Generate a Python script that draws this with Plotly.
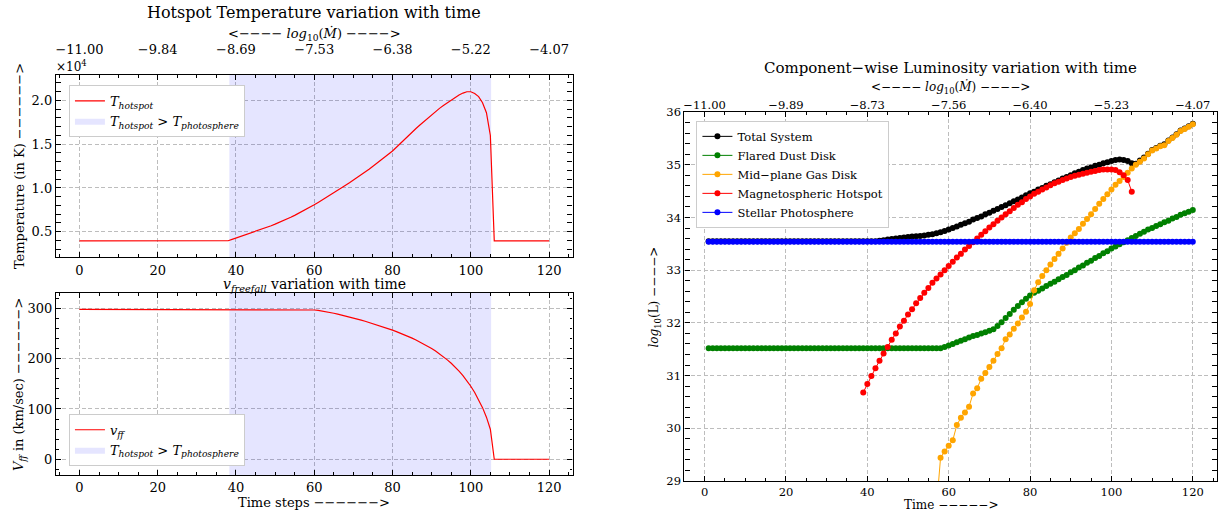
import plotly.graph_objects as go

# ---------------------------------------------------------------------------
# Data
# ---------------------------------------------------------------------------
time_steps = list(range(0, 121))

# Hotspot temperature in K, one value per time step 0..120
t_hotspot = [
    3950, 3950, 3950, 3950, 3950, 3950, 3950, 3950, 3950, 3950,
    3950, 3950, 3950, 3950, 3950, 3950, 3950, 3950, 3950, 3950,
    3950, 3950, 3950, 3950, 3950, 3950, 3950, 3950, 3950, 3950,
    3950, 3950, 3950, 3950, 3950, 3950, 3950, 3950, 3970, 4120,
    4270, 4420, 4570, 4720, 4870, 5030, 5190, 5350, 5520, 5690,
    5870, 6050, 6240, 6440, 6650, 6870, 7100, 7340, 7580, 7830,
    8080, 8350, 8620, 8890, 9170, 9450, 9740, 10030, 10320, 10610,
    10900, 11200, 11500, 11820, 12150, 12490, 12830, 13180, 13530, 13880,
    14230, 14650, 15100, 15550, 15980, 16400, 16800, 17200, 17600, 18000,
    18400, 18760, 19100, 19430, 19750, 20050, 20350, 20620, 20850, 21000,
    21000, 20800, 20450, 19750, 18600, 16000, 3950, 3950, 3950, 3950,
    3950, 3950, 3950, 3950, 3950, 3950, 3950, 3950, 3950, 3950,
    3950,
]

# Free-fall velocity in km/s, one value per time step 0..120
v_freefall = [
    298, 298, 298, 298, 298, 298, 298, 298, 298, 298,
    298, 298, 298, 298, 298, 298, 298, 298, 298, 298,
    298, 298, 298, 298, 298, 298, 298, 298, 298, 298,
    298, 298, 298, 298, 298, 298, 298, 298, 298, 298,
    298, 298, 298, 298, 298, 298, 298, 298, 298, 298,
    298, 298, 298, 298, 298, 298, 298, 298, 298, 297.6,
    296.9, 296.0, 294.9, 293.6, 292.1, 290.5, 288.8, 287.0, 285.1, 283.1,
    281.0, 278.9, 276.7, 274.5, 272.2, 269.9, 267.5, 265.0, 262.4, 259.7,
    256.9, 254.0, 251.0, 247.8, 244.5, 241.0, 237.3, 233.4, 229.3, 224.9,
    220.2, 215.2, 209.8, 204.0, 197.7, 190.9, 183.5, 175.3, 166.3, 156.3,
    145.2, 132.7, 118.7, 102.7, 83.7, 59.7, 0, 0, 0, 0,
    0, 0, 0, 0, 0, 0, 0, 0, 0, 0,
    0,
]

# Interval where the hotspot is hotter than the photosphere
hot_interval = [38.3, 105.2]

# Component luminosities, log10(L), time steps 1..120
lum_steps = list(range(1, 121))

log_l_total = [
    33.55, 33.55, 33.55, 33.55, 33.55, 33.55, 33.55, 33.55, 33.55, 33.55,
    33.55, 33.55, 33.55, 33.55, 33.55, 33.55, 33.55, 33.55, 33.55, 33.55,
    33.55, 33.55, 33.55, 33.55, 33.55, 33.55, 33.55, 33.55, 33.55, 33.55,
    33.55, 33.55, 33.55, 33.55, 33.55, 33.55, 33.55, 33.55, 33.55, 33.55,
    33.55, 33.55, 33.56, 33.57, 33.58, 33.59, 33.60, 33.61, 33.62, 33.63,
    33.64, 33.645, 33.65, 33.66, 33.67, 33.68, 33.70, 33.72, 33.745, 33.77,
    33.80, 33.83, 33.86, 33.89, 33.92, 33.96, 33.99, 34.02, 34.06, 34.09,
    34.13, 34.16, 34.20, 34.23, 34.27, 34.31, 34.34, 34.38, 34.42, 34.46,
    34.49, 34.53, 34.56, 34.60, 34.63, 34.67, 34.70, 34.74, 34.77, 34.80,
    34.84, 34.87, 34.90, 34.93, 34.95, 34.98, 35.00, 35.03, 35.05, 35.07,
    35.09, 35.10, 35.09, 35.07, 35.03, 35.02, 35.08, 35.14, 35.21, 35.28,
    35.32, 35.36, 35.39, 35.46, 35.52, 35.58, 35.65, 35.69, 35.73, 35.78,
]

log_l_dust = [
    31.52, 31.52, 31.52, 31.52, 31.52, 31.52, 31.52, 31.52, 31.52, 31.52,
    31.52, 31.52, 31.52, 31.52, 31.52, 31.52, 31.52, 31.52, 31.52, 31.52,
    31.52, 31.52, 31.52, 31.52, 31.52, 31.52, 31.52, 31.52, 31.52, 31.52,
    31.52, 31.52, 31.52, 31.52, 31.52, 31.52, 31.52, 31.52, 31.52, 31.52,
    31.52, 31.52, 31.52, 31.52, 31.52, 31.52, 31.52, 31.52, 31.52, 31.52,
    31.52, 31.52, 31.52, 31.52, 31.52, 31.52, 31.52, 31.52, 31.54, 31.57,
    31.60, 31.63, 31.66, 31.69, 31.72, 31.75, 31.77, 31.80, 31.82, 31.85,
    31.88, 31.94, 32.01, 32.09, 32.17, 32.25, 32.32, 32.39, 32.46, 32.52,
    32.57, 32.61, 32.65, 32.70, 32.74, 32.78, 32.83, 32.87, 32.91, 32.96,
    33.00, 33.05, 33.09, 33.14, 33.18, 33.23, 33.27, 33.32, 33.36, 33.41,
    33.45, 33.49, 33.53, 33.57, 33.61, 33.65, 33.69, 33.73, 33.77, 33.80,
    33.84, 33.87, 33.91, 33.94, 33.98, 34.01, 34.05, 34.08, 34.11, 34.14,
]

gas_steps = list(range(57, 121))
log_l_gas = [
    28.50, 29.44, 29.56, 29.67, 29.77, 30.06, 30.20, 30.30, 30.41, 30.66,
    30.76, 30.94, 31.05, 31.16, 31.28, 31.41, 31.52, 31.69, 31.78, 31.89,
    31.99, 32.10, 32.21, 32.36, 32.62, 32.77, 32.89, 33.00, 33.11, 33.21,
    33.31, 33.41, 33.52, 33.62, 33.70, 33.78, 33.88, 33.97, 34.06, 34.16,
    34.26, 34.35, 34.44, 34.53, 34.62, 34.69, 34.77, 34.85, 34.93, 35.00,
    35.06, 35.12, 35.20, 35.27, 35.31, 35.35, 35.37, 35.45, 35.51, 35.57,
    35.64, 35.68, 35.72, 35.77,
]

hotspot_steps = list(range(39, 106))
log_l_hotspot = [
    30.68, 30.84, 30.99, 31.14, 31.28, 31.42, 31.54, 31.68, 31.80, 31.93,
    32.04, 32.16, 32.26, 32.37, 32.47, 32.57, 32.66, 32.76, 32.84, 32.92,
    33.00, 33.08, 33.16, 33.24, 33.31, 33.39, 33.46, 33.53, 33.60, 33.67,
    33.74, 33.81, 33.87, 33.94, 34.00, 34.06, 34.12, 34.18, 34.24, 34.29,
    34.35, 34.40, 34.45, 34.49, 34.53, 34.57, 34.61, 34.65, 34.68, 34.71,
    34.74, 34.77, 34.79, 34.81, 34.83, 34.85, 34.87, 34.88, 34.90, 34.91,
    34.91, 34.91, 34.90, 34.86, 34.80, 34.71, 34.49,
]

log_l_star = [
    33.54, 33.54, 33.54, 33.54, 33.54, 33.54, 33.54, 33.54, 33.54, 33.54,
    33.54, 33.54, 33.54, 33.54, 33.54, 33.54, 33.54, 33.54, 33.54, 33.54,
    33.54, 33.54, 33.54, 33.54, 33.54, 33.54, 33.54, 33.54, 33.54, 33.54,
    33.54, 33.54, 33.54, 33.54, 33.54, 33.54, 33.54, 33.54, 33.54, 33.54,
    33.54, 33.54, 33.54, 33.54, 33.54, 33.54, 33.54, 33.54, 33.54, 33.54,
    33.54, 33.54, 33.54, 33.54, 33.54, 33.54, 33.54, 33.54, 33.54, 33.54,
    33.54, 33.54, 33.54, 33.54, 33.54, 33.54, 33.54, 33.54, 33.54, 33.54,
    33.54, 33.54, 33.54, 33.54, 33.54, 33.54, 33.54, 33.54, 33.54, 33.54,
    33.54, 33.54, 33.54, 33.54, 33.54, 33.54, 33.54, 33.54, 33.54, 33.54,
    33.54, 33.54, 33.54, 33.54, 33.54, 33.54, 33.54, 33.54, 33.54, 33.54,
    33.54, 33.54, 33.54, 33.54, 33.54, 33.54, 33.54, 33.54, 33.54, 33.54,
    33.54, 33.54, 33.54, 33.54, 33.54, 33.54, 33.54, 33.54, 33.54, 33.54,
]

step_ticks = [0, 20, 40, 60, 80, 100, 120]
mdot_ticks_left = ["−11.00", "−9.84", "−8.69", "−7.53", "−6.38", "−5.22", "−4.07"]
mdot_ticks_right = ["−11.00", "−9.89", "−8.73", "−7.56", "−6.40", "−5.23", "−4.07"]
temp_ticks = [0.5, 1.0, 1.5, 2.0]
vel_ticks = [0, 100, 200, 300]
lum_ticks = [29, 30, 31, 32, 33, 34, 35, 36]

# ---------------------------------------------------------------------------
# Figure
# ---------------------------------------------------------------------------
W, H = 1228, 522
FONT = "DejaVu Serif"
SPAN_FILL = "rgba(0,0,255,0.1)"


def px(x):
    return x / W


def py(y):
    return 1 - y / H


temp_range = [0.21, 2.29]
vel_range = [-31.5, 330.5]
step_range = [-6, 126]
lum_step_range = [-4.95, 125.95]
lum_range = [29, 36]

span_label = "<i>T</i><sub><i>hotspot</i></sub> &gt; <i>T</i><sub><i>photosphere</i></sub>"

fig = go.Figure()

# --- Hotspot temperature panel ---
fig.add_trace(go.Scatter(
    x=[hot_interval[0], hot_interval[0], hot_interval[1], hot_interval[1], hot_interval[0]],
    y=[temp_range[0], temp_range[1], temp_range[1], temp_range[0], temp_range[0]],
    fill="toself", fillcolor=SPAN_FILL, mode="lines", line=dict(width=0, color=SPAN_FILL),
    name=span_label, xaxis="x", yaxis="y", legend="legend", legendrank=2, hoverinfo="skip",
))
fig.add_trace(go.Scatter(
    x=time_steps, y=[t / 1e4 for t in t_hotspot], mode="lines",
    line=dict(color="red", width=1.2),
    name="<i>T</i><sub><i>hotspot</i></sub>",
    xaxis="x", yaxis="y", legend="legend", legendrank=1,
))

# --- Free-fall velocity panel ---
fig.add_trace(go.Scatter(
    x=[hot_interval[0], hot_interval[0], hot_interval[1], hot_interval[1], hot_interval[0]],
    y=[vel_range[0], vel_range[1], vel_range[1], vel_range[0], vel_range[0]],
    fill="toself", fillcolor=SPAN_FILL, mode="lines", line=dict(width=0, color=SPAN_FILL),
    name=span_label, xaxis="x3", yaxis="y3", legend="legend2", legendrank=2, hoverinfo="skip",
))
fig.add_trace(go.Scatter(
    x=time_steps, y=v_freefall, mode="lines",
    line=dict(color="red", width=1.2),
    name="<i>v</i><sub><i>ff</i></sub>",
    xaxis="x3", yaxis="y3", legend="legend2", legendrank=1,
))

# --- Luminosity panel ---
lum_series = [
    ("Total System", lum_steps, log_l_total, "black"),
    ("Flared Dust Disk", lum_steps, log_l_dust, "green"),
    ("Mid−plane Gas Disk", gas_steps, log_l_gas, "orange"),
    ("Magnetospheric Hotspot", hotspot_steps, log_l_hotspot, "red"),
    ("Stellar Photosphere", lum_steps, log_l_star, "blue"),
]
for name, xs, ys, color in lum_series:
    fig.add_trace(go.Scatter(
        x=xs, y=ys, mode="lines+markers", name=name,
        line=dict(color=color, width=1),
        marker=dict(color=color, size=6, line=dict(width=0)),
        xaxis="x4", yaxis="y4", legend="legend3",
    ))

# Placeholder traces so the twin (top) axes are laid out
fig.add_trace(go.Scatter(x=[None], y=[None], xaxis="x2", yaxis="y", showlegend=False, hoverinfo="skip"))
fig.add_trace(go.Scatter(x=[None], y=[None], xaxis="x5", yaxis="y4", showlegend=False, hoverinfo="skip"))

GRID = dict(showgrid=True, gridcolor="#bdbdbd", gridwidth=0.9, griddash="4px,2.5px")
FRAME = dict(showline=True, linecolor="black", linewidth=1.3, mirror="allticks",
             ticks="inside", ticklen=5, tickwidth=1, tickcolor="black", zeroline=False)


def minor(dt, t0=0):
    return dict(ticks="inside", ticklen=2.5, tickwidth=0.8, tickcolor="black",
                dtick=dt, tick0=t0, showgrid=False)


left_dom = [px(55), px(572)]
tick_font_l = dict(family=FONT, size=13, color="black")
tick_font_r = dict(family=FONT, size=11.5, color="black")
legend_common = dict(xanchor="left", yanchor="top", bgcolor="white", bordercolor="#cccccc",
                     borderwidth=1, itemwidth=30, tracegroupgap=0)

fig.update_layout(
    width=W, height=H,
    margin=dict(l=0, r=0, t=0, b=0),
    paper_bgcolor="white", plot_bgcolor="white",
    font=dict(family=FONT, color="black"),
    showlegend=True,
    xaxis=dict(domain=left_dom, anchor="y", range=step_range, tickvals=step_ticks,
               tickfont=tick_font_l, minor=minor(5), ticklabelstandoff=1, **GRID, **FRAME),
    xaxis2=dict(overlaying="x", anchor="y", side="top", range=step_range, tickvals=step_ticks,
                ticktext=mdot_ticks_left, tickfont=tick_font_l, ticks="", showgrid=False,
                showline=False, zeroline=False, ticklabelstandoff=18),
    yaxis=dict(domain=[py(257), py(70)], anchor="x", range=temp_range, tickvals=temp_ticks,
               tickformat=".1f", tickfont=tick_font_l, minor=minor(0.1, 0.5), **GRID, **FRAME),
    xaxis3=dict(domain=left_dom, anchor="y3", range=step_range, tickvals=step_ticks,
                tickfont=tick_font_l, minor=minor(5), **GRID, **FRAME),
    yaxis3=dict(domain=[py(481), py(294)], anchor="x3", range=vel_range, tickvals=vel_ticks,
                tickfont=tick_font_l, minor=minor(20), **GRID, **FRAME),
    xaxis4=dict(domain=[px(684), px(1217)], anchor="y4", range=lum_step_range, tickvals=step_ticks,
                tickfont=tick_font_r, minor=minor(5), **GRID, **FRAME),
    xaxis5=dict(overlaying="x4", anchor="y4", side="top", range=lum_step_range, tickvals=step_ticks,
                ticktext=mdot_ticks_right, tickfont=tick_font_r, ticks="", showgrid=False,
                showline=False, zeroline=False),
    yaxis4=dict(domain=[py(487), py(108)], anchor="x4", range=lum_range, tickvals=lum_ticks,
                tickfont=tick_font_r, minor=minor(0.2, 29), **GRID, **FRAME),
    legend=dict(x=px(68), y=py(80), font=dict(family=FONT, size=13), **legend_common),
    legend2=dict(x=px(68), y=py(418), font=dict(family=FONT, size=13), **legend_common),
    legend3=dict(x=px(696), y=py(117), font=dict(family=FONT, size=11.5), **legend_common),
)

DASH = "−"


def label(text, x, y, size, angle=0, xanchor="center"):
    fig.add_annotation(text=text, x=px(x), y=py(y), xref="paper", yref="paper",
                       showarrow=False, textangle=angle, xanchor=xanchor, yanchor="middle",
                       borderpad=0, font=dict(family=FONT, size=size, color="black"))


mdot_title = "&lt;" + DASH * 4 + " <i>log</i><sub>10</sub>(<i>Ṁ</i>) " + DASH * 4 + "&gt;"

label("Hotspot Temperature variation with time", 313.5, 6, 16)
label(mdot_title, 313.5, 28, 13)
label("×10<sup>4</sup>", 54, 61, 12, xanchor="left")
label("Temperature (in K) " + DASH * 6 + "&gt;", 18, 163.5, 13, angle=-90)
label("<i>v</i><sub><i>freefall</i></sub> variation with time", 313.5, 285.5, 14)
label("<i>V</i><sub><i>ff</i></sub> in (km/sec) " + DASH * 6 + "&gt;", 18, 387.5, 13, angle=-90)
label("Time steps " + DASH * 6 + "&gt;", 313.5, 509, 13)

label("Component" + DASH + "wise Luminosity variation with time", 950.5, 63, 15)
label(mdot_title, 950.5, 83, 12)
label("<i>log</i><sub>10</sub>(L) " + DASH * 4 + "&gt;", 655, 298, 12, angle=-90)
label("Time " + DASH * 5 + "&gt;", 950.5, 512, 12)

fig.write_html("out.html")
